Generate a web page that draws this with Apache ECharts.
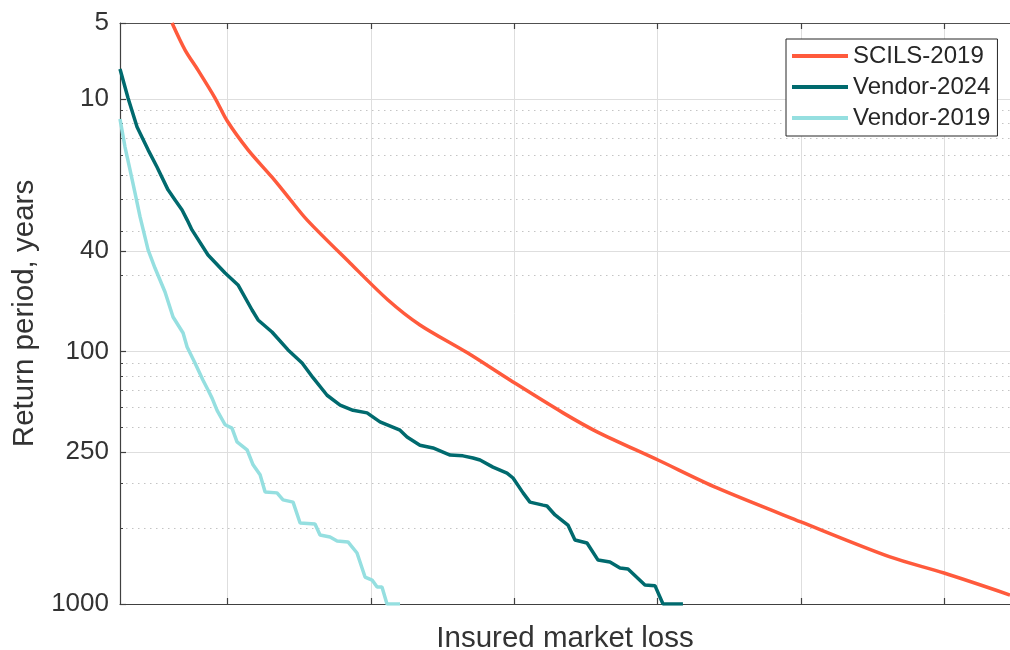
<!DOCTYPE html>
<html>
<head>
<meta charset="utf-8">
<script src="https://cdn.jsdelivr.net/npm/echarts@6/dist/echarts.min.js"></script>
<style>
html,body{margin:0;padding:0;background:#fff;}
#chart{width:1010px;height:650px;}
</style>
</head>
<body>
<div id="chart"></div>
<script>
// ---- data (loss in arbitrary units; grid lines at 1..6) ----
var seriesNames = ['SCILS-2019', 'Vendor-2024', 'Vendor-2019'];

var scilsLoss = [0.613, 0.704, 0.794, 0.913, 0.997, 1.143, 1.310, 1.422, 1.554, 1.854, 2.119, 2.342, 2.670, 2.991, 3.340, 3.577, 4.002, 4.414, 4.999, 5.620, 5.997, 6.457];
var scilsRP   = [5, 6.40, 7.68, 9.91, 12.2, 15.9, 20.4, 24.4, 30.1, 44.6, 62.5, 78.5, 101, 132, 175, 208, 269, 347, 473, 651, 754, 921];

var v2024Loss = [0.250, 0.306, 0.369, 0.446, 0.508, 0.585, 0.634, 0.683, 0.718, 0.752, 0.864, 0.983, 1.073, 1.171, 1.213, 1.310, 1.422, 1.520, 1.596, 1.694, 1.785, 1.875, 1.973, 2.063, 2.203, 2.252, 2.342, 2.433, 2.552, 2.642, 2.712, 2.761, 2.851, 2.949, 2.991, 3.061, 3.109, 3.200, 3.228, 3.284, 3.374, 3.423, 3.507, 3.584, 3.667, 3.737, 3.793, 3.911, 3.981, 4.037, 4.176];
var v2024RP   = [7.61, 9.91, 12.9, 15.9, 18.6, 22.9, 25.1, 27.5, 30.1, 33.0, 41.5, 48.9, 54.5, 68.5, 75.0, 83.7, 98.6, 111, 127, 149, 163, 171, 175, 190, 205, 218, 235, 241, 257, 259, 264, 269, 287, 303, 317, 363, 395, 406, 409, 444, 487, 558, 573, 670, 682, 720, 727, 841, 846, 1000, 1000];

var v2019Loss = [0.250, 0.285, 0.320, 0.355, 0.390, 0.446, 0.494, 0.564, 0.620, 0.690, 0.718, 0.773, 0.829, 0.864, 0.892, 0.927, 0.983, 1.031, 1.066, 1.136, 1.178, 1.227, 1.262, 1.345, 1.387, 1.457, 1.506, 1.610, 1.645, 1.715, 1.764, 1.840, 1.903, 1.959, 2.008, 2.043, 2.077, 2.112, 2.203];
var v2019RP   = [12.0, 15.5, 19.1, 23.6, 29.3, 39.6, 46.7, 58.1, 73.0, 84.5, 96.0, 111, 130, 142, 153, 171, 195, 201, 228, 245, 281, 308, 360, 363, 387, 395, 478, 482, 533, 543, 563, 568, 628, 782, 804, 857, 857, 1000, 1000];

// ---- ticks ----
var yMajorTicks = [5, 10, 40, 100, 250, 1000];
var yMinorTicks = [11.111, 12.5, 14.286, 16.667, 20, 25, 33.333, 50, 111.11, 125, 142.86, 166.67, 200, 333.33, 500];
var xTicks = [1, 2, 3, 4, 5, 6];
var xMin = 0.25, xMax = 6.457;

function zip(a, b) { return a.map(function (v, i) { return [v, b[i]]; }); }

var FONT = 'Liberation Sans, Arial, Helvetica, sans-serif';
var chart = echarts.init(document.getElementById('chart'), null, {renderer: 'canvas'});

var yBase = {
  type: 'log', logBase: 10, min: 5, max: 1000, inverse: true,
  position: 'left'
};

chart.setOption({
  animation: false,
  backgroundColor: '#fff',
  textStyle: {fontFamily: FONT},
  grid: {left: 120, right: 0, top: 23, bottom: 46, containLabel: false, outerBoundsMode: 'none'},
  legend: {
    data: seriesNames.map(function (n) { return {name: n, icon: 'rect'}; }),
    orient: 'vertical',
    left: 786, top: 39,
    padding: [5, 7, 6, 6],
    itemGap: 7,
    itemWidth: 56,
    itemHeight: 4,
    backgroundColor: '#fff',
    borderColor: '#262626',
    borderWidth: 1,
    borderRadius: 0,
    textStyle: {fontSize: 24, color: '#262626', fontFamily: FONT, lineHeight: 24}
  },
  xAxis: [
    {
      type: 'value', min: xMin, max: xMax, position: 'bottom',
      name: 'Insured market loss', nameLocation: 'middle', nameGap: 20,
      nameTextStyle: {fontSize: 29.5, color: '#333', fontFamily: FONT},
      axisLine: {show: true, onZero: false, lineStyle: {color: '#404040', width: 1.2}},
      axisTick: {show: true, inside: true, length: 6, customValues: xTicks, lineStyle: {color: '#404040', width: 1.2}},
      axisLabel: {show: false, customValues: xTicks},
      splitLine: {show: true, lineStyle: {color: '#dedede', width: 1}}
    },
    {
      type: 'value', min: xMin, max: xMax, position: 'top',
      axisLine: {show: true, onZero: false, lineStyle: {color: '#505050', width: 1.2}},
      axisTick: {show: true, inside: true, length: 6, customValues: xTicks, lineStyle: {color: '#404040', width: 1.2}},
      axisLabel: {show: false, customValues: xTicks},
      splitLine: {show: false}
    }
  ],
  yAxis: [
    Object.assign({}, yBase, {
      name: 'Return period, years', nameLocation: 'middle', nameGap: 72, nameRotate: 90,
      nameTextStyle: {fontSize: 29.5, color: '#333', fontFamily: FONT},
      axisLine: {show: true, onZero: false, lineStyle: {color: '#404040', width: 1.2}},
      axisTick: {show: true, inside: true, length: 6, customValues: yMajorTicks, lineStyle: {color: '#404040', width: 1.2}},
      axisLabel: {show: true, customValues: yMajorTicks, margin: 11, fontSize: 26, color: '#333', fontFamily: FONT,
        formatter: function (v) { return String(Math.round(v)); }},
      splitLine: {show: true, lineStyle: {color: '#dedede', width: 1}}
    }),
    Object.assign({}, yBase, {
      axisLine: {show: false},
      axisTick: {show: true, inside: true, length: 3, customValues: yMinorTicks, lineStyle: {color: '#404040', width: 1}},
      axisLabel: {show: false, customValues: yMinorTicks},
      splitLine: {show: true, lineStyle: {color: '#c4c4c4', width: 1, type: [1.5, 4.5]}}
    })
  ],
  series: [
    {
      name: seriesNames[0], type: 'line', xAxisIndex: 0, yAxisIndex: 0,
      data: zip(scilsLoss, scilsRP), symbol: 'none', smooth: 0.3,
      lineStyle: {color: '#ff5a3c', width: 3.5}, itemStyle: {color: '#ff5a3c'}, z: 5
    },
    {
      name: seriesNames[1], type: 'line', xAxisIndex: 0, yAxisIndex: 0,
      data: zip(v2024Loss, v2024RP), symbol: 'none',
      lineStyle: {color: '#006a6e', width: 3.5}, itemStyle: {color: '#006a6e'}, z: 4
    },
    {
      name: seriesNames[2], type: 'line', xAxisIndex: 0, yAxisIndex: 0,
      data: zip(v2019Loss, v2019RP), symbol: 'none',
      lineStyle: {color: '#95dfe0', width: 3.5}, itemStyle: {color: '#95dfe0'}, z: 3
    }
  ]
});
</script>
</body>
</html>
